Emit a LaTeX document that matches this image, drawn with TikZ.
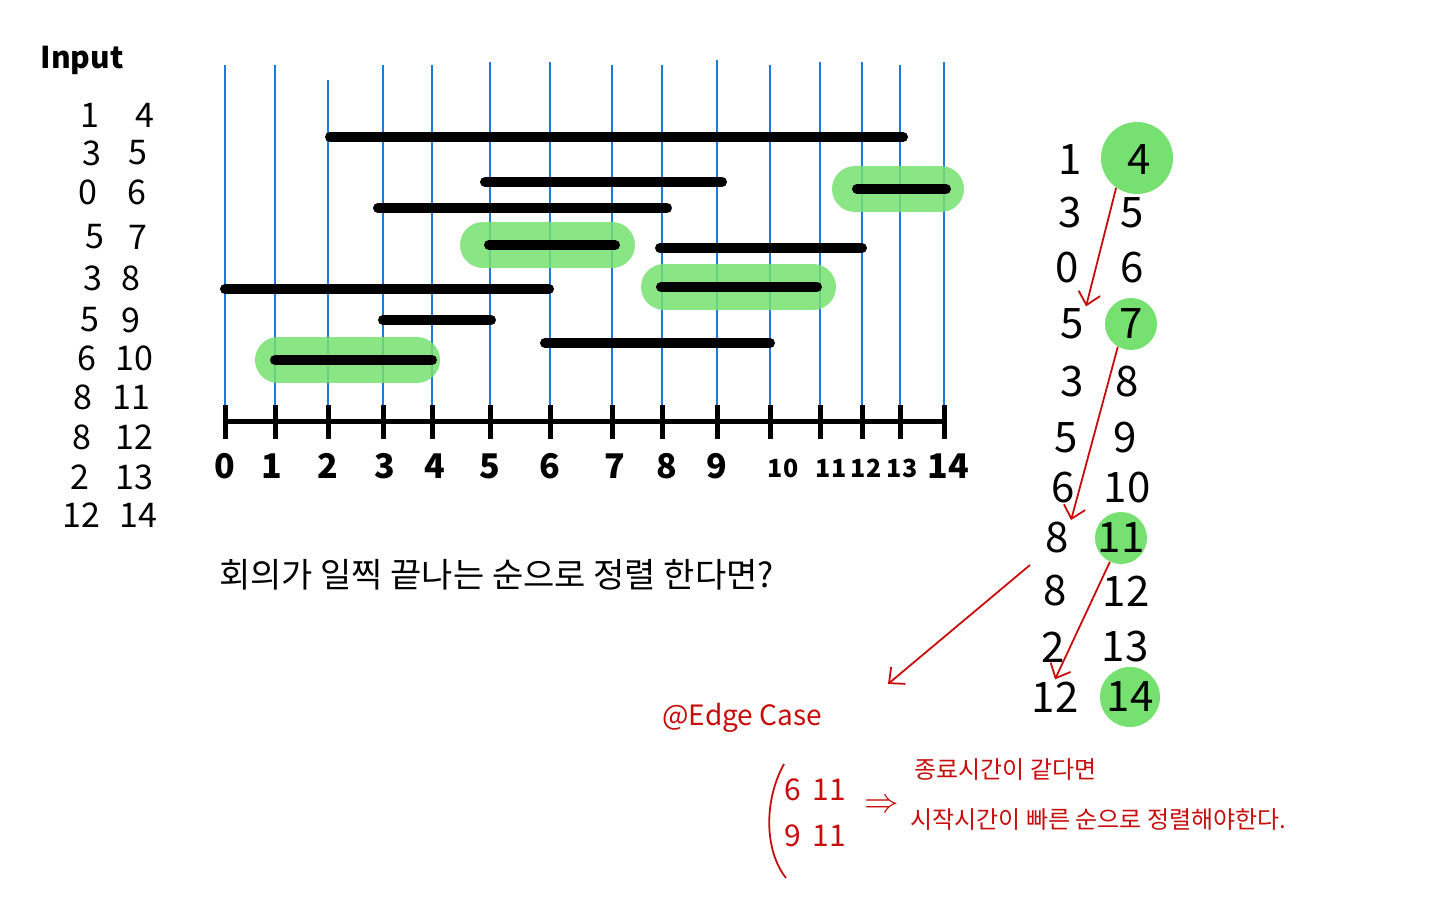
\documentclass[tikz,border=0pt]{standalone}
\usepackage{fontspec}
\setmainfont{Noto Sans CJK KR}
\usepackage{tikz}
\usetikzlibrary{arrows.meta, positioning, calc}
\definecolor{penred}{RGB}{200,12,12}
\definecolor{hlgreen}{RGB}{118,224,112}
\definecolor{gridblue}{RGB}{28,122,222}

\begin{document}
\begin{tikzpicture}[
  x=0.5pt, y=-0.5pt,
  num/.style={font=\fontsize{17}{17}\selectfont, inner sep=1pt},
  bignum/.style={font=\fontsize{21}{21}\selectfont, inner sep=1pt},
  pick/.style={circle, fill=hlgreen, inner sep=0pt},
  ticklabel/.style={font=\fontsize{17}{17}\selectfont\bfseries, anchor=north, inner sep=0pt},
  gridline/.style={draw=gridblue, line width=0.9pt},
  meeting/.style={line width=5pt, line cap=round},
  glow/.style={draw=hlgreen, line width=23pt, line cap=round, opacity=0.85},
  note/.style={text=penred, inner sep=1pt},
  arrow/.style={draw=penred, line width=0.9pt, -{Straight Barb[length=6pt, width=11pt]}}
]
  \useasboundingbox (0,0) rectangle (1440,900);

  % INPUT ================================
  \node[font=\fontsize{15}{15}\selectfont\bfseries] (inputlbl) at (82,60) {Input};
  \foreach \i/\a/\xa/\b/\xb/\y in {1/1/90/4/145/115, 2/3/92/5/138/153, 3/0/88/6/137/192,
      4/5/95/7/138/237, 5/3/93/8/131/278, 6/5/90/9/131/320, 7/6/87/10/134/358,
      8/8/83/11/131/397, 9/8/82/12/134/437, 10/2/80/13/134/477, 11/12/81/14/138/515}
  {
    \node[num] (inl\i) at (\xa,\y) {\a};
    \node[num] (inr\i) at (\xb,\y) {\b};
  }

  % Timeline ================================
  \foreach \i/\x/\top in {0/225/65, 1/275/65, 2/328/80, 3/383/65, 4/432/65, 5/490/62,
      6/550/62, 7/612/65, 8/662/65, 9/717/60, 10/770/65, 11/820/62, 12/862/62, 13/900/65, 14/944/62}
  {
    \coordinate (tick\i) at (\x,421);
    \draw[gridline] (\x,\top) -- (tick\i);
  }

  % selected meetings
  \foreach \a/\b/\y in {855/941/189, 483/612/245, 664/813/287, 278/417/360}
    \draw[glow] (\a,\y) -- (\b,\y);

  % all meetings
  \foreach \a/\b/\y in {330/903/137, 485/722/182, 857/946/189, 378/667/208, 489/615/245,
      660/862/248, 661/817/287, 225/549/289, 383/491/320, 545/770/343, 275/432/360}
    \draw[meeting] (\a,\y) -- (\b,\y);

  % axis
  \draw[line width=2.5pt] (tick0) -- (tick14);
  \foreach \i/\lx in {0/225, 1/272, 2/328, 3/385, 4/435, 5/490, 6/550, 7/615, 8/667, 9/717, 14/948}
  {
    \draw[line width=2.5pt] ($(tick\i)+(0,-16)$) -- ($(tick\i)+(0,18)$);
    \node[ticklabel] (lab\i) at (\lx,453) {\i};
  }
  \foreach \i/\lx in {10/783, 11/831, 12/866, 13/902}
  {
    \draw[line width=2.5pt] ($(tick\i)+(0,-16)$) -- ($(tick\i)+(0,18)$);
    \node[ticklabel, font=\fontsize{12.5}{12.5}\selectfont\bfseries] (lab\i) at (\lx,459) {\i};
  }

  \node[font=\fontsize{17}{17}\selectfont, anchor=west] (question) at (212,575)
    {회의가 일찍 끝나는 순으로 정렬 한다면?};

  % Sorted list ================================
  \node[pick, minimum size=36pt] (sel1) at (1137,158) {};
  \node[pick, minimum size=26pt] (sel4) at (1131,324) {};
  \node[pick, minimum size=26pt] (sel8) at (1121,538) {};
  \node[pick, minimum size=30pt] (sel11) at (1130,697) {};
  \foreach \i/\a/\xa/\b/\xb/\y in {1/1/1070/4/1139/160, 2/3/1070/5/1132/213, 3/0/1067/6/1132/268,
      4/5/1072/7/1131/324, 5/3/1072/8/1127/382, 6/5/1066/9/1125/438, 7/6/1063/10/1127/488,
      8/8/1057/11/1121/538, 9/8/1055/12/1126/591, 10/2/1053/13/1125/647, 11/12/1055/14/1130/697}
  {
    \node[bignum] (sl\i) at (\xa,\y) {\a};
    \node[bignum] (sr\i) at (\xb,\y) {\b};
  }

  \draw[arrow] (sel1.235) -- (sl4.north east);
  \draw[arrow] (sel4.240) -- (sl8.north east);
  \draw[arrow] (sel8.245) -- (sl11.north);

  % Edge Case ================================
  \coordinate (ecfrom) at (1030,565);
  \coordinate (ecto) at (888,684);
  \draw[arrow] (ecfrom) -- (ecto);

  \node[note, font=\fontsize{14}{14}\selectfont, anchor=west] (edge) at (660,718) {@Edge Case};
  \draw[penred, line width=0.9pt] (784,764) .. controls (764,800) and (764,850) .. (786,878);
  \node[note, font=\fontsize{15}{15}\selectfont] (ec1) at (815,790) {6\, 11};
  \node[note, font=\fontsize{15}{15}\selectfont] (ec2) at (815,836) {9\, 11};
  \node[note, font=\fontsize{18}{18}\selectfont] (imp) at (882,806) {$\Rightarrow$};
  \node[note, font=\fontsize{12}{12}\selectfont, anchor=west] (why1) at (912,770) {종료시간이 같다면};
  \node[note, font=\fontsize{12}{12}\selectfont, anchor=west] (why2) at (908,820)
    {시작시간이 빠른 순으로 정렬해야한다.};

\end{tikzpicture}
\end{document}
